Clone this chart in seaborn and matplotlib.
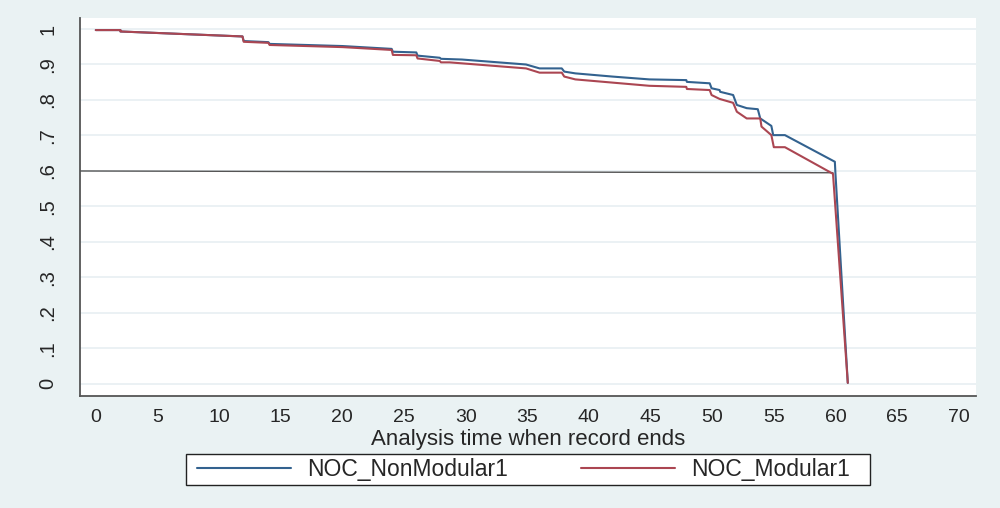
import matplotlib
matplotlib.use("Agg")
import matplotlib.pyplot as plt
from matplotlib.lines import Line2D
from matplotlib.patches import Rectangle
import seaborn as sns
import pandas as pd

# ---- data ----
groups = ["NOC_NonModular1", "NOC_Modular1"]

t_nonmod = [0, 2, 2, 11.9, 12, 14, 14.1, 20, 24, 24.1, 26, 26.1, 27.9, 28, 29.7,
            34.9, 36, 37.8, 38, 38.9, 41.9, 44.9, 47.9, 47.95, 49.8, 49.95, 50.6,
            50.65, 51.7, 52.0, 52.8, 53.7, 53.9, 54.8, 54.95, 55.9, 59.95, 60.0, 61.0]
s_nonmod = [.997, .997, .993, .979, .966, .963, .958, .952, .944, .936, .934, .925,
            .919, .916, .914, .900, .889, .889, .880, .875, .866, .858, .856, .851,
            .847, .833, .828, .823, .814, .786, .777, .774, .748, .727, .701, .701,
            .626, .592, .003]

t_mod = [0, 2, 2, 11.9, 12, 14, 14.1, 20, 24, 24.1, 26, 26.1, 27.9, 28, 28.7,
         34.9, 36, 37.8, 38, 38.9, 41.9, 44.9, 47.9, 47.95, 49.8, 49.95, 50.6,
         51.7, 52.0, 52.8, 53.9, 54.0, 54.8, 55.0, 55.9, 59.8, 61.0]
s_mod = [.997, .997, .993, .979, .964, .961, .955, .949, .941, .927, .926, .917,
         .910, .906, .906, .889, .877, .877, .866, .858, .849, .840, .837, .831,
         .828, .814, .803, .792, .767, .748, .748, .725, .701, .667, .667, .592, .003]

ref_x = [-1.3, 59.8]
ref_y = [0.600, 0.595]

x_ticks = list(range(0, 75, 5))
y_ticks = [0, .1, .2, .3, .4, .5, .6, .7, .8, .9, 1]
y_ticklabels = ["0", ".1", ".2", ".3", ".4", ".5", ".6", ".7", ".8", ".9", "1"]
x_title = "Analysis time when record ends"

colors = {"NOC_NonModular1": "#33628f", "NOC_Modular1": "#ab4652"}

# ---- build table ----
df = pd.concat([
    pd.DataFrame({"t": t_nonmod, "s": s_nonmod, "group": groups[0]}),
    pd.DataFrame({"t": t_mod, "s": s_mod, "group": groups[1]}),
], ignore_index=True)

sns.set_style("white")
plt.rcParams["font.family"] = ["Liberation Sans", "DejaVu Sans"]

W, H = 1000, 508
bg = "#eaf2f3"
fig = plt.figure(figsize=(W / 100, H / 100), dpi=100, facecolor=bg)
ax = fig.add_axes([80 / W, 1 - 396 / H, 896 / W, 378 / H])
ax.set_facecolor("white")

# grid
for yv in y_ticks:
    ax.axhline(yv, color="#e9f0f3", lw=1.3, zorder=0)

sns.lineplot(data=df, x="t", y="s", hue="group", palette=colors, sort=False,
             estimator=None, units="group", legend=False, lw=1.5, ax=ax, zorder=3)
ax.plot(ref_x, ref_y, color="#555555", lw=1.0, zorder=2)

ax.set_xlim(-1.28, 71.4)
ax.set_ylim(-0.034, 1.031)
ax.set_xticks(x_ticks)
ax.set_xticklabels([str(v) for v in x_ticks], fontsize=14)
ax.set_yticks(y_ticks)
ax.set_yticklabels(y_ticklabels, fontsize=14.5, rotation=90, va="center")
ax.tick_params(axis="x", length=4.5, width=1.0, color="#333333", pad=5.0, direction="out")
ax.tick_params(axis="y", length=8.5, width=1.0, color="#333333", pad=8, direction="out")
ax.set_xlabel(x_title, fontsize=16)
ax.xaxis.set_label_coords(0.5, -(429 - 396) / 378)
ax.xaxis.label.set_va("top")
ax.set_ylabel("")

for side in ["top", "right"]:
    ax.spines[side].set_visible(False)
for side in ["left", "bottom"]:
    ax.spines[side].set_color("#555555")
    ax.spines[side].set_linewidth(1.3)
ax.grid(False)

# legend (frame drawn separately to match the flat Stata box)
fig.patches.append(Rectangle((186 / W, 1 - 485 / H), (870 - 186) / W, 31 / H,
                             transform=fig.transFigure, facecolor="white",
                             edgecolor="#222222", lw=1.0, zorder=1))
handles = [Line2D([0], [0], color=colors[g], lw=1.5) for g in groups]
leg = fig.legend(handles, groups, loc="center left", bbox_to_anchor=(197 / W, 1 - 469.5 / H),
                 ncol=2, fontsize=16.5, frameon=False, handlelength=4.1,
                 handletextpad=0.7, columnspacing=3.2, borderpad=0.0, borderaxespad=0.0)
leg.set_zorder(5)

fig.savefig("out.png", dpi=100, facecolor=bg)
